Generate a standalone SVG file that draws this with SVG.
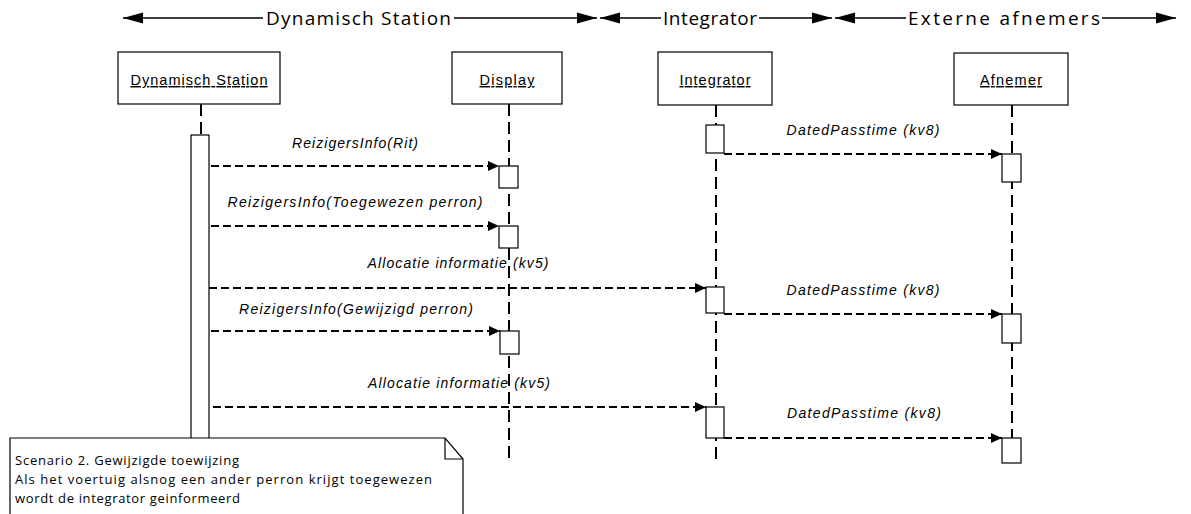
<svg xmlns="http://www.w3.org/2000/svg" width="1191" height="514" viewBox="0 0 1191 514">
<style>
.hdr{font-family:"Open Sans","Liberation Sans",sans-serif;font-size:19px;fill:#000}
.hl{stroke:#000;stroke-width:1.5;fill:none}
.box{fill:#fff;stroke:#000;stroke-width:1.2}
.bl{font-family:"Liberation Sans",Arial,sans-serif;font-size:14.5px;fill:#000;text-anchor:middle;text-decoration:underline}
.life{stroke:#000;stroke-width:2;stroke-dasharray:12 6;fill:none}
.msg{stroke:#000;stroke-width:2;stroke-dasharray:8 4;fill:none}
.ml{font-family:"Liberation Sans",Arial,sans-serif;font-size:14px;font-style:italic;fill:#000;text-anchor:middle}
.act{fill:#fff;stroke:#000;stroke-width:1.2}
.note{font-family:"Open Sans","Liberation Sans",sans-serif;font-size:13px;fill:#000}
</style>
<defs>
<marker id="hdrS" markerUnits="userSpaceOnUse" markerWidth="22" markerHeight="12" refX="0" refY="6" orient="auto"><path d="M0,6 L20,0.5 L20,11.5 Z" fill="#000"/></marker>
<marker id="hdrE" markerUnits="userSpaceOnUse" markerWidth="22" markerHeight="12" refX="20" refY="6" orient="auto"><path d="M20,6 L0,0.5 L0,11.5 Z" fill="#000"/></marker>
<marker id="ah" markerUnits="userSpaceOnUse" markerWidth="12" markerHeight="12" refX="11" refY="6" orient="auto"><path d="M11,6 L0,1 L0,11 Z" fill="#000"/></marker>
</defs>

<g id="header">
<line class="hl" x1="123" y1="18" x2="263" y2="18" marker-start="url(#hdrS)"/>
<text class="hdr" x="266" y="25" textLength="185" lengthAdjust="spacing">Dynamisch Station</text>
<line class="hl" x1="454" y1="18" x2="597" y2="18" marker-end="url(#hdrE)"/>
<line class="hl" x1="600" y1="18" x2="661" y2="18" marker-start="url(#hdrS)"/>
<text class="hdr" x="663" y="25" textLength="94" lengthAdjust="spacing">Integrator</text>
<line class="hl" x1="759" y1="18" x2="832" y2="18" marker-end="url(#hdrE)"/>
<line class="hl" x1="835" y1="18" x2="906" y2="18" marker-start="url(#hdrS)"/>
<text class="hdr" x="908" y="25" textLength="192" lengthAdjust="spacing">Externe afnemers</text>
<line class="hl" x1="1102" y1="18" x2="1176" y2="18" marker-end="url(#hdrE)"/>
</g>

<g id="lifelines">
<line class="life" x1="201" y1="104" x2="201" y2="135"/>
<line class="life" x1="509" y1="104" x2="509" y2="464"/>
<line class="life" x1="716" y1="105" x2="716" y2="464"/>
<line class="life" x1="1012" y1="105" x2="1012" y2="464"/>
</g>

<g id="node-dynamisch-station">
<rect class="box" x="118" y="52" width="162" height="52"/>
<text class="bl" x="199" y="85" textLength="137" lengthAdjust="spacing">Dynamisch Station</text>
</g>
<g id="node-display">
<rect class="box" x="452" y="52" width="110" height="52"/>
<text class="bl" x="507" y="85" textLength="55" lengthAdjust="spacing">Display</text>
</g>
<g id="node-integrator">
<rect class="box" x="658" y="52" width="114" height="53"/>
<text class="bl" x="715" y="85" textLength="71" lengthAdjust="spacing">Integrator</text>
</g>
<g id="node-afnemer">
<rect class="box" x="954" y="53" width="114" height="52"/>
<text class="bl" x="1011" y="85" textLength="62" lengthAdjust="spacing">Afnemer</text>
</g>

<g id="activations">
<rect class="act" x="191" y="135" width="18" height="330"/>
<rect class="act" x="499" y="166" width="19" height="22"/>
<rect class="act" x="499" y="226" width="19" height="22"/>
<rect class="act" x="500" y="331" width="19" height="23"/>
<rect class="act" x="706" y="125" width="18" height="28"/>
<rect class="act" x="706" y="287" width="18" height="26"/>
<rect class="act" x="706" y="407" width="18" height="31"/>
<rect class="act" x="1002" y="154" width="19" height="28"/>
<rect class="act" x="1002" y="314" width="19" height="29"/>
<rect class="act" x="1002" y="438" width="19" height="25"/>
</g>

<g id="connectors">
<line class="msg" x1="211" y1="166" x2="499" y2="166" marker-end="url(#ah)"/>
<text class="ml" x="355" y="148" textLength="126" lengthAdjust="spacing">ReizigersInfo(Rit)</text>
<line class="msg" x1="211" y1="226" x2="499" y2="226" marker-end="url(#ah)"/>
<text class="ml" x="355" y="207" textLength="255" lengthAdjust="spacing">ReizigersInfo(Toegewezen perron)</text>
<line class="msg" x1="209" y1="288" x2="706" y2="288" marker-end="url(#ah)"/>
<text class="ml" x="458" y="268" textLength="181" lengthAdjust="spacing">Allocatie informatie (kv5)</text>
<line class="msg" x1="211" y1="331" x2="500" y2="331" marker-end="url(#ah)"/>
<text class="ml" x="356" y="314" textLength="234" lengthAdjust="spacing">ReizigersInfo(Gewijzigd perron)</text>
<line class="msg" x1="213" y1="407" x2="706" y2="407" marker-end="url(#ah)"/>
<text class="ml" x="459" y="388" textLength="182" lengthAdjust="spacing">Allocatie informatie (kv5)</text>
<line class="msg" x1="724" y1="154" x2="1002" y2="154" marker-end="url(#ah)"/>
<text class="ml" x="863" y="135" textLength="153" lengthAdjust="spacing">DatedPasstime (kv8)</text>
<line class="msg" x1="724" y1="314" x2="1002" y2="314" marker-end="url(#ah)"/>
<text class="ml" x="863" y="295" textLength="153" lengthAdjust="spacing">DatedPasstime (kv8)</text>
<line class="msg" x1="724" y1="438" x2="1002" y2="438" marker-end="url(#ah)"/>
<text class="ml" x="864" y="418" textLength="154" lengthAdjust="spacing">DatedPasstime (kv8)</text>
</g>

<g id="note">
<path d="M10,438 L445,438 L463,459 L463,520 L10,520 Z" fill="#fff" stroke="#000" stroke-width="1.2"/>
<path d="M445,438 L445,459 L463,459" fill="none" stroke="#000" stroke-width="1.2"/>
<text class="note" x="15" y="465" textLength="224" lengthAdjust="spacing">Scenario 2. Gewijzigde toewijzing</text>
<text class="note" x="15" y="484" textLength="417" lengthAdjust="spacing">Als het voertuig alsnog een ander perron krijgt toegewezen</text>
<text class="note" x="15" y="503" textLength="225" lengthAdjust="spacing">wordt de integrator geinformeerd</text>
</g>
</svg>
